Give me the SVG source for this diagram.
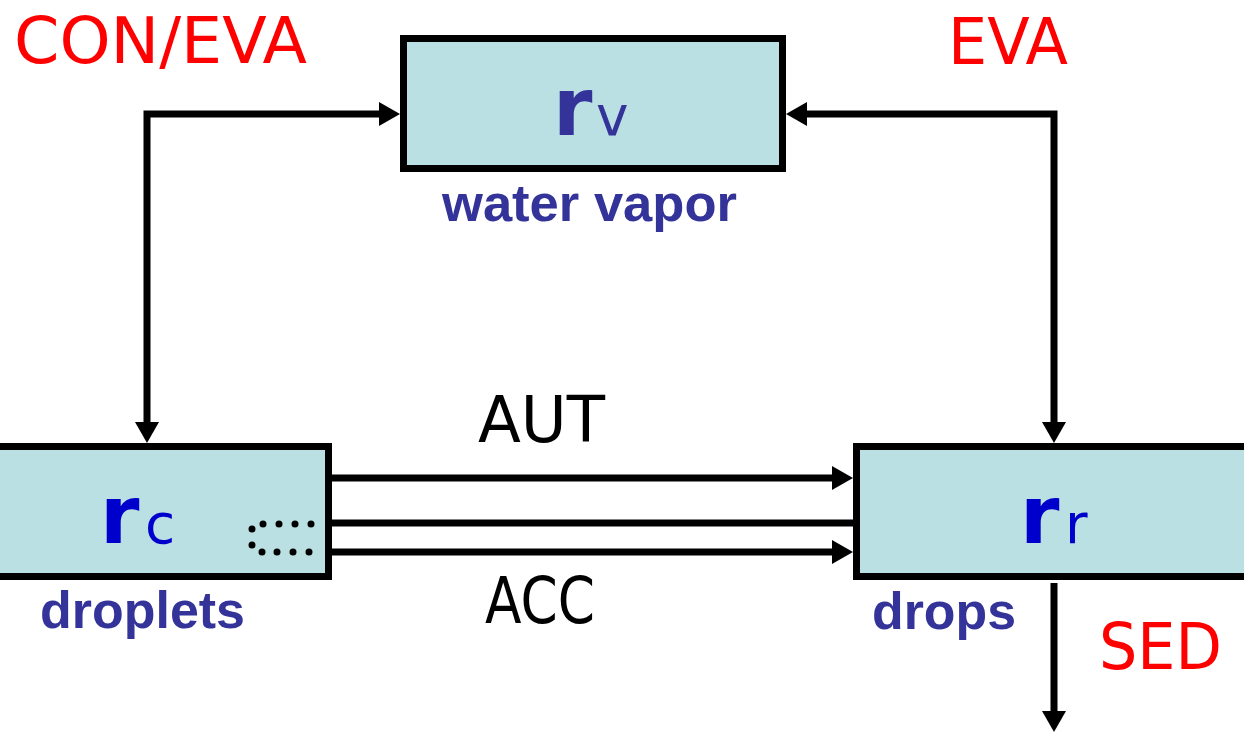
<svg xmlns="http://www.w3.org/2000/svg" width="1244" height="732" viewBox="0 0 1244 732">
<style>
.box{fill:#BAE0E3;stroke:#000;stroke-width:7}
.conn{fill:none;stroke:#000;stroke-width:7;stroke-linejoin:miter}
.comic{font-family:"Comic Sans MS","DejaVu Sans",sans-serif}
.big{font-size:80px;font-weight:bold}
.sub{font-size:55px}
.red{fill:#FF0000;font-size:64px}
.blk{fill:#000;font-size:64px}
.lbl{font-family:"Liberation Sans",Arial,sans-serif;font-weight:bold;font-size:52px;fill:#333399}
.dot{fill:#000}
</style>
<defs>
<marker id="ah" markerUnits="userSpaceOnUse" markerWidth="21" markerHeight="24" refX="10" refY="12" orient="auto-start-reverse" viewBox="0 0 21 24">
<path d="M0,0 L21,12 L0,24 Z" fill="#000"/>
</marker>
</defs>
<rect width="1244" height="732" fill="#fff"/>
<g id="connectors">
<path class="conn" d="M147,432 V114 H389" marker-start="url(#ah)" marker-end="url(#ah)"/>
<path class="conn" d="M1054,432 V114 H797" marker-start="url(#ah)" marker-end="url(#ah)"/>
<path class="conn" d="M332,478 H842" marker-end="url(#ah)"/>
<path class="conn" d="M332,523 H856"/>
<path class="conn" d="M332,552 H842" marker-end="url(#ah)"/>
<path class="conn" d="M1054,583 V721" marker-end="url(#ah)"/>
</g>
<g id="node-rv">
<rect class="box" x="403.5" y="38.5" width="379" height="130"/>
<text class="comic" y="135" fill="#333399"><tspan class="big" x="553">r</tspan><tspan class="sub" x="596">v</tspan></text>
<text class="lbl" x="442" y="221" textLength="295" lengthAdjust="spacingAndGlyphs">water vapor</text>
</g>
<g id="node-rc">
<rect class="box" x="-50" y="446.5" width="378.5" height="130"/>
<text class="comic" y="543" fill="#0000CC"><tspan class="big" x="100">r</tspan><tspan class="sub" x="145">c</tspan></text>
<text class="lbl" x="40" y="628" textLength="205" lengthAdjust="spacingAndGlyphs">droplets</text>
<circle class="dot" cx="263" cy="524" r="3.5"/>
<circle class="dot" cx="279" cy="524" r="3.5"/>
<circle class="dot" cx="295" cy="524" r="3.5"/>
<circle class="dot" cx="311" cy="524" r="3.5"/>
<circle class="dot" cx="252" cy="529" r="3.5"/>
<circle class="dot" cx="252" cy="545" r="3.5"/>
<circle class="dot" cx="262" cy="552" r="3.5"/>
<circle class="dot" cx="277" cy="552" r="3.5"/>
<circle class="dot" cx="293" cy="552" r="3.5"/>
<circle class="dot" cx="309" cy="552" r="3.5"/>
</g>
<g id="node-rr">
<rect class="box" x="856.5" y="446.5" width="450" height="130"/>
<text class="comic" y="543" fill="#0000CC"><tspan class="big" x="1020">r</tspan><tspan class="sub" x="1065">r</tspan></text>
<text class="lbl" x="872" y="629" textLength="144" lengthAdjust="spacingAndGlyphs">drops</text>
</g>
<g id="labels">
<text class="comic red" x="14" y="63" textLength="293" lengthAdjust="spacingAndGlyphs">CON/EVA</text>
<text class="comic red" x="948" y="64" textLength="120" lengthAdjust="spacingAndGlyphs">EVA</text>
<text class="comic red" x="1099" y="669" textLength="123" lengthAdjust="spacingAndGlyphs">SED</text>
<text class="comic blk" x="478" y="442" textLength="127" lengthAdjust="spacingAndGlyphs">AUT</text>
<text class="comic blk" x="485" y="623" textLength="110" lengthAdjust="spacingAndGlyphs">ACC</text>
</g>
</svg>
